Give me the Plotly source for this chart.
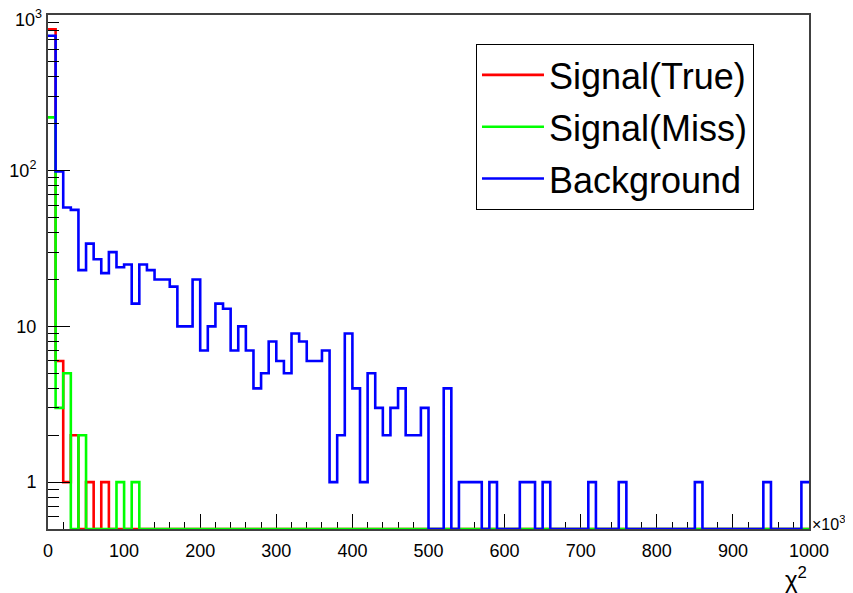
import plotly.graph_objects as go

# ---- data (chi^2 in units of 10^3, 100 bins of width 10) ----
x_min = 0
x_max = 1000
n_bins = 100
y_floor = 0.5  # log-axis bottom (zero bins drawn on the frame, as in ROOT)

signal_true = [810, 6, 1, 2, 0, 1, 0, 1] + [0] * 92

signal_miss = [220, 3, 5, 0, 2, 0, 0, 0, 0, 1, 0, 1] + [0] * 88

background = [
    735, 99, 58, 56, 23, 34, 27, 22, 30, 24,
    25, 14, 25, 23, 20, 20, 18, 10, 10, 20,
    7, 10, 14, 13, 7, 10, 7, 4, 5, 8,
    6, 5, 9, 8, 6, 6, 7, 1, 2, 9,
    4, 1, 5, 3, 2, 3, 4, 2, 2, 3,
    0, 0, 4, 0, 1, 1, 1, 0, 1, 0,
    0, 0, 1, 1, 0, 1, 0, 0, 0, 0,
    0, 1, 0, 0, 0, 1, 0, 0, 0, 0,
    0, 0, 0, 0, 0, 1, 0, 0, 0, 0,
    0, 0, 0, 0, 1, 0, 0, 0, 0, 1,
]

series_names = ["Signal(True)", "Signal(Miss)", "Background"]
series_colors = ["#ff0000", "#00ff00", "#0000ff"]
series_values = [signal_true, signal_miss, background]

x_tick_vals = list(range(0, 1001, 100))
y_tick_vals = [1, 10, 100, 1000]
y_tick_text = ["1", "10", "10<sup>2</sup>", ""]  # top label placed inside the page below
y_top_label = "10<sup>3</sup>"
y_minor_vals = [0.6, 0.7, 0.8, 0.9] + [m * d for d in (1, 10, 100) for m in range(2, 10)]

FONT = "Liberation Sans, Arial, Helvetica, sans-serif"

bin_w = (x_max - x_min) / n_bins
edges = [x_min + i * bin_w for i in range(n_bins + 1)]

fig = go.Figure()
for name, color, vals in zip(series_names, series_colors, series_values):
    ys = [v if v > 0 else y_floor for v in vals]
    ys = ys + [ys[-1]]
    fig.add_trace(go.Scatter(
        x=edges, y=ys, mode="lines", name=name,
        line=dict(color=color, width=2.6, shape="hv"),
        legendgroup=name, hoverinfo="skip",
    ))

# the page body adds an 8px offset, so the margins compensate for it
fig.update_layout(
    width=853, height=593,
    margin=dict(l=40, r=52, t=7, b=72, autoexpand=False),
    paper_bgcolor="white", plot_bgcolor="white",
    font=dict(family=FONT, color="black", size=18),
    showlegend=True,
    legend=dict(
        x=0.5624, y=0.9436, xanchor="left", yanchor="top",
        bordercolor="black", borderwidth=1, bgcolor="white",
        font=dict(size=36, family=FONT),
        itemwidth=62, tracegroupgap=2, traceorder="grouped",
    ),
)

fig.update_xaxes(
    range=[x_min, x_max], showgrid=False, zeroline=False, automargin=False,
    showline=True, linecolor="#404040", linewidth=2, mirror=True,
    ticks="inside", ticklen=15, tickcolor="black", tickwidth=1.2,
    tickmode="array", tickvals=x_tick_vals,
    tickfont=dict(size=18), ticklabelstandoff=4, ticklabeloverflow="allow",
    minor=dict(ticks="inside", ticklen=7, dtick=20, tick0=0,
               tickcolor="black", tickwidth=1.2, showgrid=False),
    layer="below traces",
)
fig.update_yaxes(
    type="log", range=[-0.30103, 3], showgrid=False, zeroline=False, automargin=False,
    showline=True, linecolor="#404040", linewidth=2, mirror=True,
    ticks="inside", ticklen=22, tickcolor="black", tickwidth=1.2,
    tickmode="array", tickvals=y_tick_vals, ticktext=y_tick_text,
    tickfont=dict(size=18), ticklabelstandoff=6, ticklabeloverflow="allow",
    minor=dict(ticks="inside", ticklen=11, tickmode="array", tickvals=y_minor_vals,
               tickcolor="black", tickwidth=1.2, showgrid=False),
    layer="above traces",
)

# top y label, nudged down so that it stays on the page (as ROOT does)
fig.add_annotation(
    text=y_top_label, xref="paper", yref="y", x=0, y=3,
    xanchor="right", yanchor="middle", xshift=-4, yshift=-3,
    showarrow=False, font=dict(size=18, family=FONT),
)
fig.add_annotation(
    text="×10<sup>3</sup>", xref="paper", yref="paper", x=1, y=0,
    xanchor="left", yanchor="middle", xshift=1, yshift=6,
    showarrow=False, font=dict(size=16, family=FONT),
)
fig.add_annotation(
    text="χ<sup>2</sup>", xref="paper", yref="paper", x=1, y=0,
    xanchor="right", yanchor="top", yshift=-32,
    showarrow=False, font=dict(size=24, family=FONT),
)

fig.write_html("out.html")
